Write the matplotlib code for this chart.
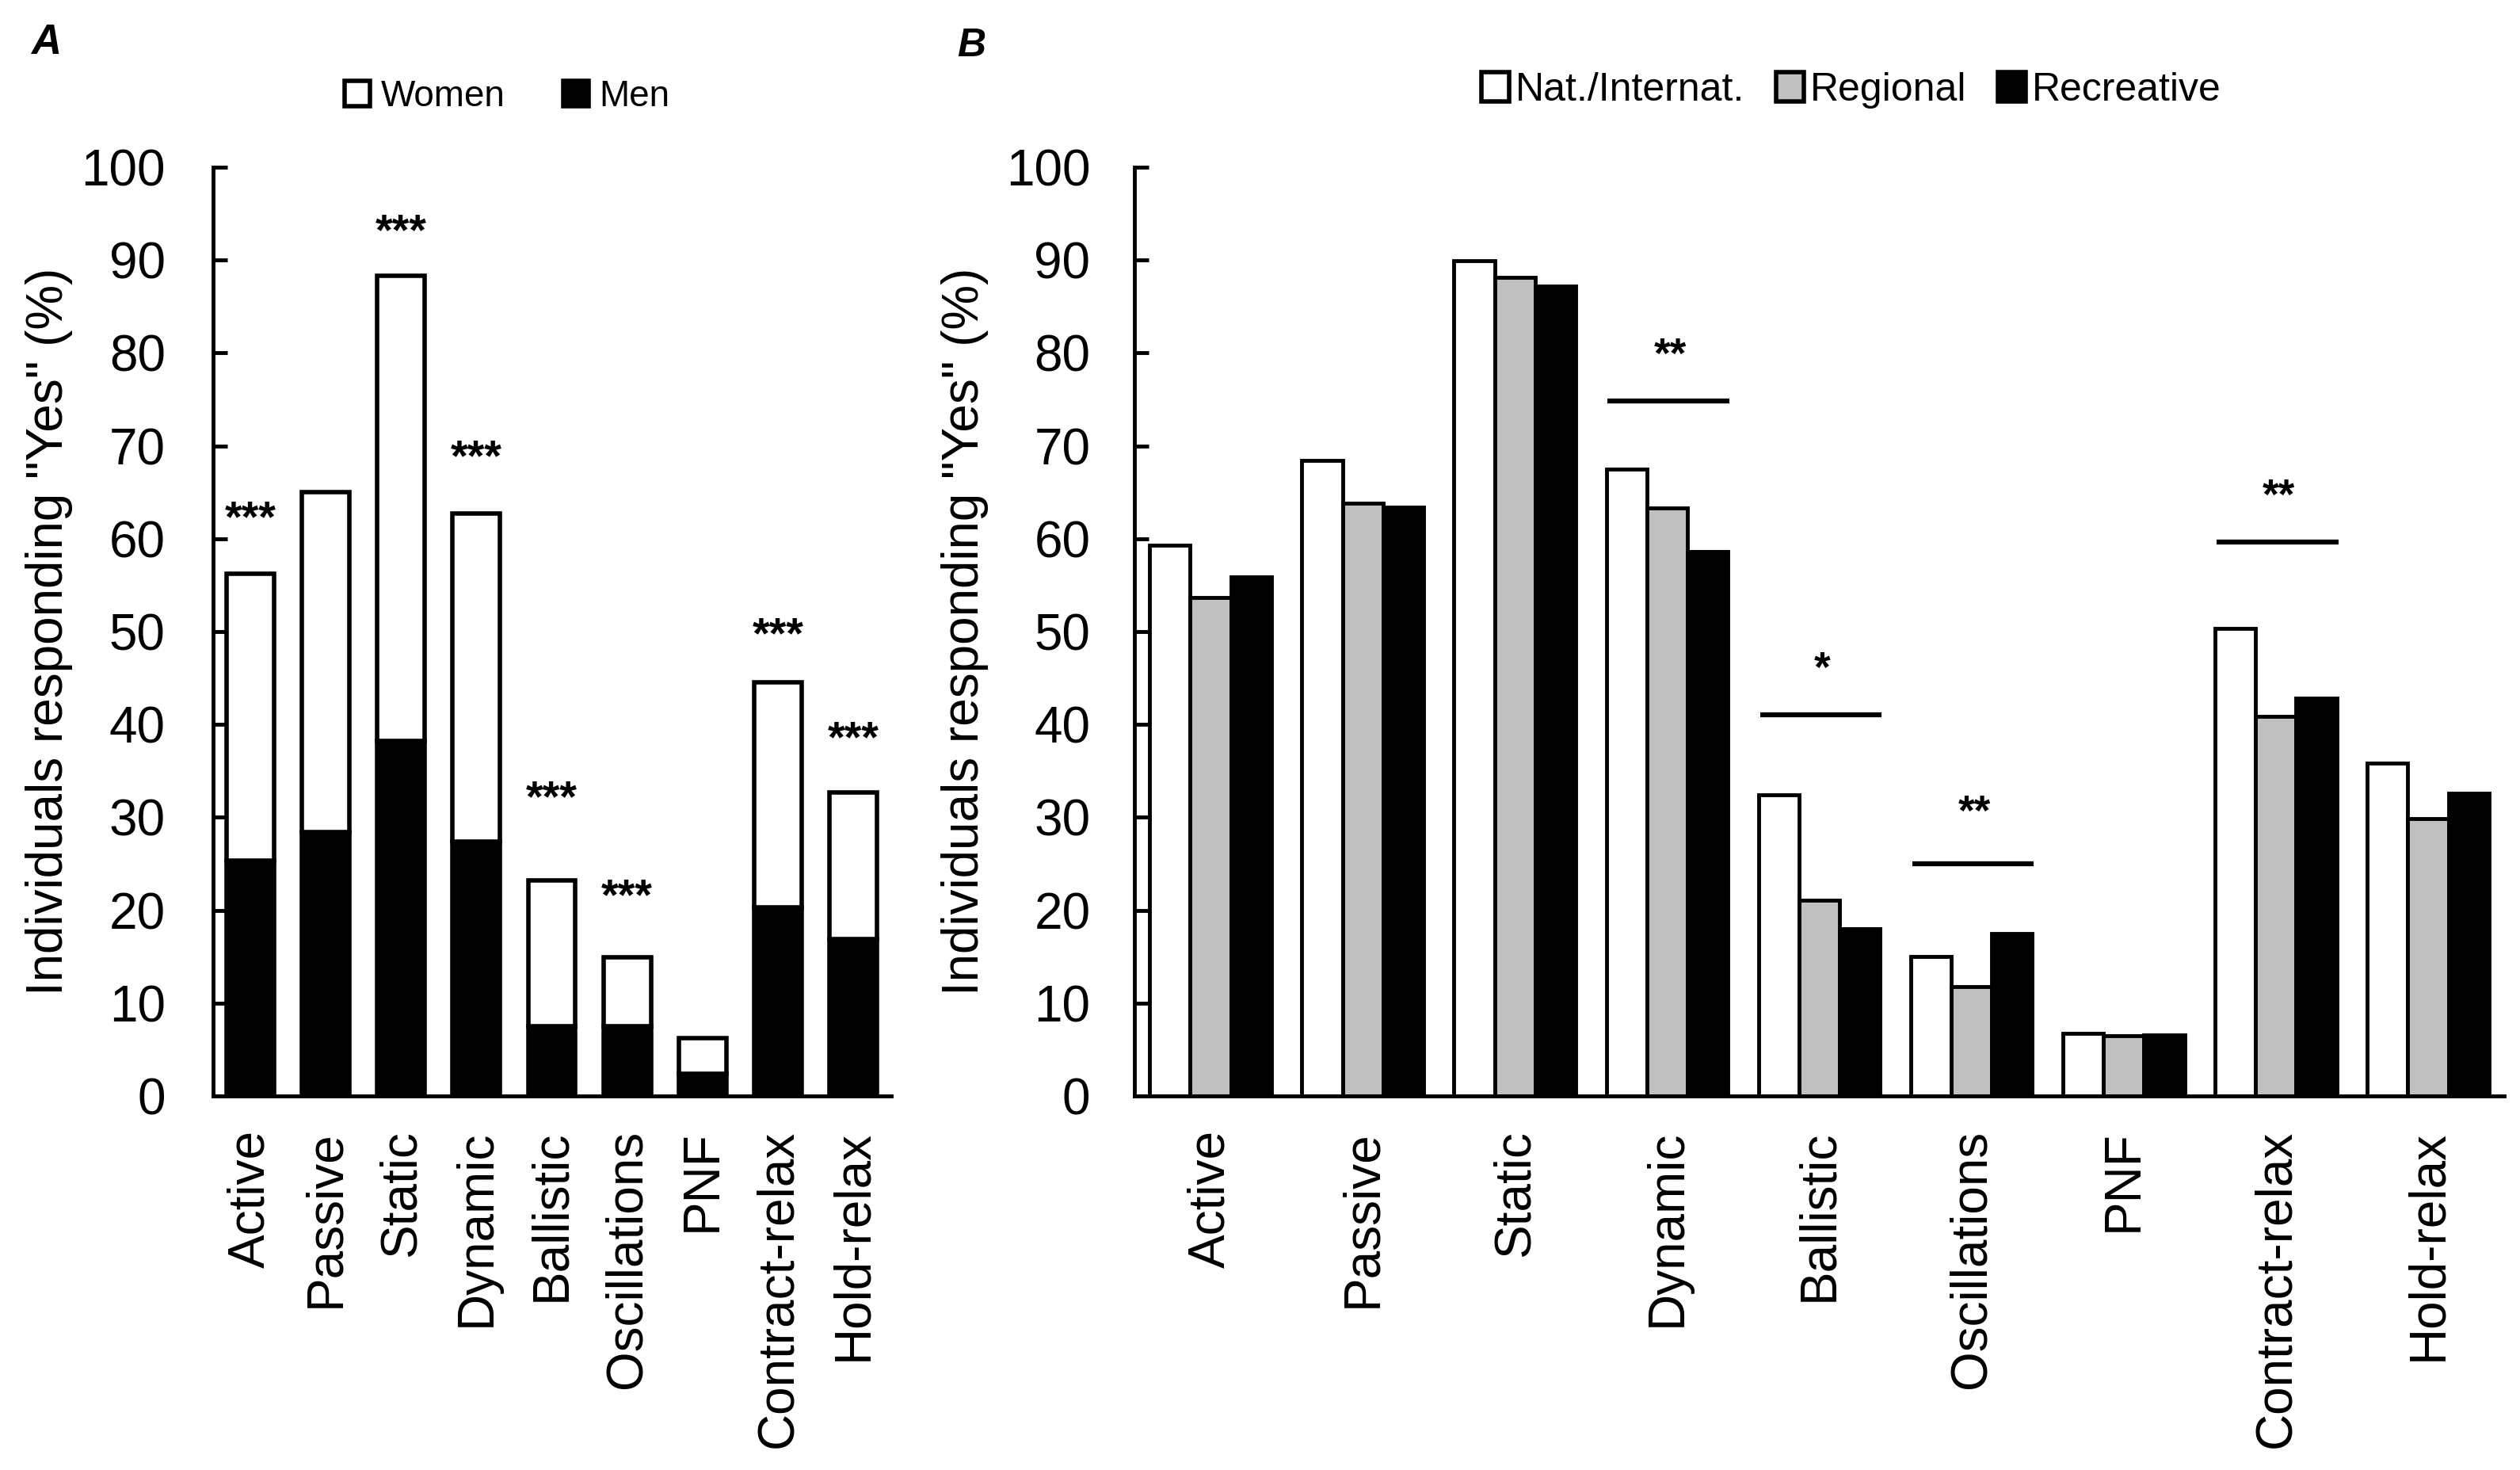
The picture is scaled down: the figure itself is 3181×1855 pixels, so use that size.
import numpy as np
import matplotlib
matplotlib.use("Agg")
import matplotlib.pyplot as plt
from matplotlib.patches import Patch
from matplotlib.transforms import offset_copy

plt.rcParams["font.family"] = ["Liberation Sans", "DejaVu Sans"]

# ---- data ----
categories = ["Active", "Passive", "Static", "Dynamic", "Ballistic",
              "Oscillations", "PNF", "Contract-relax", "Hold-relax"]

# panel A: stacked shares (% of all individuals)
men = [25.3, 28.4, 38.2, 27.4, 7.5, 7.5, 2.4, 20.3, 16.9]
women = [30.9, 36.6, 50.1, 35.3, 15.7, 7.4, 3.8, 24.2, 15.8]
stars_a = ["***", "", "***", "***", "***", "***", "", "***", "***"]
stars_a_y = [63.5, 0, 94.4, 70.1, 33.4, 22.8, 0, 51.0, 39.8]

# panel B: by level
nat = [59.3, 68.4, 89.9, 67.5, 32.4, 15.0, 6.7, 50.3, 35.8]
regional = [53.7, 63.8, 88.1, 63.3, 21.1, 11.8, 6.5, 40.9, 29.9]
recreative = [55.9, 63.4, 87.2, 58.6, 18.0, 17.5, 6.6, 42.8, 32.6]
sig_idx = [3, 4, 5, 7]
sig_text = ["**", "*", "**", "**"]
sig_line_y = [74.8, 41.0, 25.0, 59.6]
sig_text_y = [81.0, 47.2, 31.8, 65.8]

GREY = "#c0c0c0"
W, H = 3181, 1855

fig = plt.figure(figsize=(W / 100, H / 100), dpi=100)
ax_a = fig.add_axes([268.5 / W, 1 - 1383 / H, 856 / W, 1172 / H])
ax_b = fig.add_axes([1432 / W, 1 - 1383 / H, 1729 / W, 1172 / H])


def style_axis(ax, pad):
    for s in ["top", "right"]:
        ax.spines[s].set_visible(False)
    for s in ["left", "bottom"]:
        ax.spines[s].set_linewidth(3.5)
    ax.set_ylim(0, 100)
    ax.set_xlim(-0.5, 8.5)
    ax.set_yticks(np.arange(0, 101, 10))
    ax.tick_params(axis="y", direction="in", length=13, width=3.5, pad=pad, labelsize=46)
    ax.tick_params(axis="x", length=0, pad=31)
    ax.set_xticks(np.arange(len(categories)))
    ax.set_xticklabels(categories, rotation=90, fontsize=46)
    ax.set_ylabel('Individuals responding "Yes" (%)', fontsize=46)
    ax.yaxis.label.set_va("center")


# ---- panel A ----
x = np.arange(len(categories))
ax_a.bar(x, men, width=0.63, color="black", edgecolor="black", linewidth=4)
ax_a.bar(x, women, bottom=men, width=0.63, color="white", edgecolor="black", linewidth=4)
style_axis(ax_a, 43)
ax_a.yaxis.set_label_coords((62 - 268.5) / 856, 0.5)

tr = offset_copy(ax_a.transData, fig=fig, x=0, y=-0.575 * 40, units="points")
for i, s in enumerate(stars_a):
    if s:
        ax_a.text(x[i], stars_a_y[i], s, transform=tr, ha="center", va="baseline",
                  fontsize=40, fontweight="bold")

ax_a.legend(handles=[Patch(facecolor="white", edgecolor="black", linewidth=4, label="Women"),
                     Patch(facecolor="black", edgecolor="black", linewidth=4, label="Men")],
            loc="center", bbox_to_anchor=(640 / W, 1 - 122 / H), bbox_transform=fig.transFigure,
            ncol=2, frameon=False, fontsize=33, handlelength=0.7, handleheight=0.7,
            handletextpad=0.3, columnspacing=1.6, borderpad=0)

# ---- panel B ----
bw = 0.8 / 3
ax_b.bar(x - bw, nat, width=bw, color="white", edgecolor="black", linewidth=3.5)
ax_b.bar(x, regional, width=bw, color=GREY, edgecolor="black", linewidth=3.5)
ax_b.bar(x + bw, recreative, width=bw, color="black", edgecolor="black", linewidth=3.5)
style_axis(ax_b, 40)
ax_b.yaxis.set_label_coords((1218 - 1432) / 1729, 0.5)

tr_b = offset_copy(ax_b.transData, fig=fig, x=0, y=-0.575 * 38, units="points")
for k, i in enumerate(sig_idx):
    ax_b.plot([i - 0.39, i + 0.41], [sig_line_y[k], sig_line_y[k]], color="black",
              linewidth=4.5, solid_capstyle="butt")
    ax_b.text(i + 0.02, sig_text_y[k], sig_text[k], transform=tr_b, ha="center",
              va="baseline", fontsize=38, fontweight="bold")

ax_b.legend(handles=[Patch(facecolor="white", edgecolor="black", linewidth=4, label="Nat./Internat."),
                     Patch(facecolor=GREY, edgecolor="black", linewidth=4, label="Regional"),
                     Patch(facecolor="black", edgecolor="black", linewidth=4, label="Recreative")],
            loc="center", bbox_to_anchor=(2337 / W, 1 - 114 / H), bbox_transform=fig.transFigure,
            ncol=3, frameon=False, fontsize=36, handlelength=0.7,
            handleheight=0.75, handletextpad=0.15, columnspacing=0.8, borderpad=0)

# panel letters
fig.text(58 / W, 1 - 54 / H, "A", fontsize=38, fontweight="bold", style="italic",
         ha="center", va="center")
fig.text(1226 / W, 1 - 58 / H, "B", fontsize=36, fontweight="bold", style="italic",
         ha="center", va="center")

fig.savefig("out.png", dpi=100)
